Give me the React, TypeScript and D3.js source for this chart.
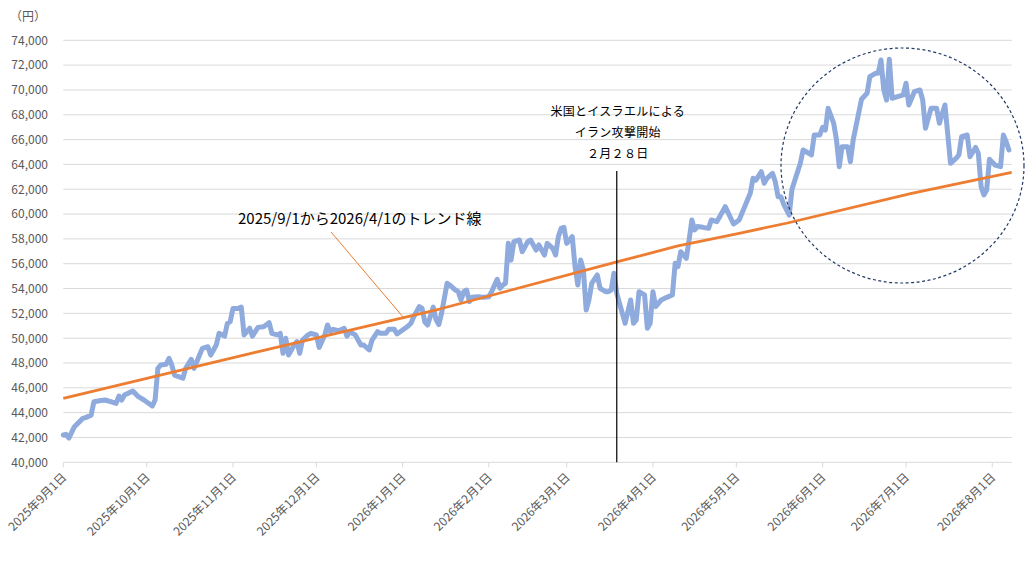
import React from 'react';
import * as d3 from 'd3';

// ---- data ----
const priceDates: string[] = [
  '2025-09-01','2025-09-02','2025-09-03','2025-09-05','2025-09-08','2025-09-09','2025-09-11','2025-09-12','2025-09-14','2025-09-16',
  '2025-09-18','2025-09-20','2025-09-21','2025-09-22','2025-09-23','2025-09-26','2025-09-28','2025-09-30','2025-10-03','2025-10-04',
  '2025-10-05','2025-10-06','2025-10-08','2025-10-09','2025-10-10','2025-10-11','2025-10-14','2025-10-15','2025-10-17','2025-10-18',
  '2025-10-20','2025-10-21','2025-10-23','2025-10-24','2025-10-26','2025-10-27','2025-10-29','2025-10-30','2025-10-31','2025-11-01',
  '2025-11-03','2025-11-04','2025-11-05','2025-11-07','2025-11-08','2025-11-10','2025-11-12','2025-11-14','2025-11-15','2025-11-17',
  '2025-11-18','2025-11-19','2025-11-20','2025-11-21','2025-11-23','2025-11-24','2025-11-25','2025-11-26','2025-11-28','2025-11-29',
  '2025-12-01','2025-12-02','2025-12-04','2025-12-05','2025-12-06','2025-12-07','2025-12-09','2025-12-11','2025-12-12','2025-12-13',
  '2025-12-14','2025-12-15','2025-12-17','2025-12-18','2025-12-20','2025-12-21','2025-12-23','2025-12-24','2025-12-26','2025-12-27',
  '2025-12-29','2025-12-30','2026-01-01','2026-01-03','2026-01-04','2026-01-05','2026-01-07','2026-01-08','2026-01-09','2026-01-10',
  '2026-01-12','2026-01-13','2026-01-14','2026-01-15','2026-01-17','2026-01-18','2026-01-20','2026-01-21','2026-01-22','2026-01-23',
  '2026-01-24','2026-01-25','2026-01-26','2026-01-28','2026-01-30','2026-02-01','2026-02-02','2026-02-04','2026-02-05','2026-02-06',
  '2026-02-07','2026-02-08','2026-02-09','2026-02-10','2026-02-12','2026-02-13','2026-02-15','2026-02-16','2026-02-18','2026-02-19',
  '2026-02-21','2026-02-22','2026-02-24','2026-02-25','2026-02-26','2026-02-27','2026-02-28','2026-03-01','2026-03-03','2026-03-04',
  '2026-03-05','2026-03-06','2026-03-07','2026-03-08','2026-03-09','2026-03-10','2026-03-12','2026-03-13','2026-03-15','2026-03-16',
  '2026-03-17','2026-03-18','2026-03-19','2026-03-20','2026-03-22','2026-03-24','2026-03-25','2026-03-26','2026-03-27','2026-03-29',
  '2026-03-30','2026-03-31','2026-04-01','2026-04-02','2026-04-04','2026-04-06','2026-04-08','2026-04-09','2026-04-10','2026-04-11',
  '2026-04-12','2026-04-13','2026-04-14','2026-04-15','2026-04-16','2026-04-17','2026-04-19','2026-04-21','2026-04-22','2026-04-24',
  '2026-04-25','2026-04-27','2026-04-29','2026-04-30','2026-05-02','2026-05-04','2026-05-06','2026-05-07','2026-05-08','2026-05-10',
  '2026-05-11','2026-05-12','2026-05-14','2026-05-15','2026-05-16','2026-05-17','2026-05-18','2026-05-20','2026-05-21','2026-05-23',
  '2026-05-24','2026-05-25','2026-05-27','2026-05-28','2026-05-29','2026-05-31','2026-06-01','2026-06-02','2026-06-03','2026-06-05',
  '2026-06-06','2026-06-07','2026-06-08','2026-06-10','2026-06-11','2026-06-12','2026-06-15','2026-06-17','2026-06-18','2026-06-20',
  '2026-06-21','2026-06-22','2026-06-23','2026-06-24','2026-06-25','2026-06-26','2026-06-28','2026-06-30','2026-07-01','2026-07-02',
  '2026-07-04','2026-07-06','2026-07-07','2026-07-08','2026-07-10','2026-07-12','2026-07-13','2026-07-15','2026-07-17','2026-07-19',
  '2026-07-20','2026-07-21','2026-07-23','2026-07-24','2026-07-26','2026-07-27','2026-07-28','2026-07-29','2026-07-30','2026-07-31',
  '2026-08-02','2026-08-04','2026-08-05','2026-08-06','2026-08-07',
];

const priceValues: number[] = [
  42200,42250,41950,42870,43540,43600,43800,44880,44960,45020,
  44880,44750,45340,45020,45420,45740,45290,45020,44540,45020,
  47570,47840,47900,48380,47840,47030,46770,47570,48300,47570,
  48640,49180,49310,48640,49450,50390,50170,51200,51330,52400,
  52400,52500,50260,50800,50170,50870,50920,51250,50390,50260,
  50390,48780,49990,48640,49450,49720,48780,49850,50260,50390,
  50260,49260,50260,51060,50520,50710,50600,50800,50170,50520,
  50390,50260,49450,49450,49050,49850,50520,50390,50390,50710,
  50710,50340,50660,50980,51200,51730,52540,52400,51300,51060,
  52500,51500,51100,52000,54420,54280,53880,53750,53080,53750,
  53880,52940,53290,53340,53290,53340,53750,54740,54020,54280,
  54420,57640,56300,57770,57910,56970,57770,57910,57100,57510,
  56700,57640,57240,56700,58180,58850,58930,57640,58180,55760,
  54280,56300,55500,52270,53080,54420,55090,54020,53750,53750,
  53880,55230,53610,52810,51200,53080,51200,51470,53750,53480,
  50800,51200,53750,52540,53080,53290,53480,56030,55760,56970,
  56700,56430,57910,59520,58720,58990,58930,58850,59520,59390,
  59790,60600,59660,59200,59520,60600,61670,62880,62740,63410,
  62480,62880,63280,62610,61400,61400,60800,59920,62000,63400,
  64090,65160,64900,64760,66370,66370,66990,66770,68520,67310,
  65970,63820,65430,65430,64220,65970,69250,69730,71070,71340,
  71340,72410,70000,69190,72470,69330,69460,69600,70540,68790,
  69860,70000,69190,66910,68520,68520,67310,68790,64090,64490,
  64760,66240,66370,64620,65370,64900,62210,61540,61940,64410,
  63950,63820,66370,65830,65160,
];

// trend line (read at several points)
const trendDates: string[] = [
  '2025-09-01','2025-11-09','2026-01-14','2026-03-19','2026-04-10','2026-05-02','2026-05-19','2026-07-03','2026-08-08',
];
const trendValues: number[] = [45150, 48860, 52330, 56140, 57430, 58450, 59260, 61670, 63365];

const yTicks: number[] = [40000, 42000, 44000, 46000, 48000, 50000, 52000, 54000, 56000, 58000, 60000, 62000, 64000, 66000, 68000, 70000, 72000, 74000];

const xTickDates: string[] = [
  '2025-09-01','2025-10-01','2025-11-01','2025-12-01','2026-01-01','2026-02-01',
  '2026-03-01','2026-04-01','2026-05-01','2026-06-01','2026-07-01','2026-08-01',
];
const xTickLabels: string[] = [
  '2025年9月1日','2025年10月1日','2025年11月1日','2025年12月1日','2026年1月1日','2026年2月1日',
  '2026年3月1日','2026年4月1日','2026年5月1日','2026年6月1日','2026年7月1日','2026年8月1日',
];

const eventDate = '2026-03-19';
const eventLabel: string[] = ['米国とイスラエルによる', 'イラン攻撃開始', '２月２８日'];
const trendLabel = '2025/9/1から2026/4/1のトレンド線';
const unitLabel = '（円）';

const FONT = "'Noto Sans CJK JP', 'Noto Sans', sans-serif";

export default function App() {
  const W = 1035;
  const H = 561;
  const parse = d3.utcParse('%Y-%m-%d');
  const x = d3.scaleUtc()
    .domain([parse('2025-09-01') as Date, parse('2026-08-08') as Date])
    .range([63.3, 1011.7]);
  const y = d3.scaleLinear().domain([40000, 74000]).range([462.3, 40.3]);

  const pricePts: [Date, number][] = priceDates.map((d, i) => [parse(d) as Date, priceValues[i]]);
  const trendPts: [Date, number][] = trendDates.map((d, i) => [parse(d) as Date, trendValues[i]]);
  const line = d3.line<[Date, number]>().x(d => x(d[0])).y(d => y(d[1]));
  const fmt = d3.format(',');

  const [x0, x1] = x.range();
  const ex = x(parse(eventDate) as Date);

  return (
    <svg width={W} height={H} style={{ position: 'absolute', left: 0, top: 0, background: '#fff' }} fontFamily={FONT}>
      <rect x={0} y={0} width={W} height={H} fill="#fff" />
      {/* grid */}
      {yTicks.map(t => (
        <line key={t} x1={x0} x2={x1} y1={y(t)} y2={y(t)} stroke="#d9d9d9" strokeWidth={1} />
      ))}
      {/* y labels */}
      {yTicks.map(t => (
        <text key={'l' + t} x={48} y={y(t)} dy="0.36em" textAnchor="end" fontSize={12} fill="#595959">{fmt(t)}</text>
      ))}
      <text x={28} y={21} textAnchor="middle" fontSize={12} fill="#595959">{unitLabel}</text>
      {/* x ticks */}
      {xTickDates.map((d, i) => {
        const tx = x(parse(d) as Date);
        return (
          <g key={d}>
            <line x1={tx} x2={tx} y1={y(40000)} y2={y(40000) + 5} stroke="#d9d9d9" />
            <text transform={`translate(${tx + 4},${478}) rotate(-45)`} textAnchor="end" fontSize={12} fill="#595959">{xTickLabels[i]}</text>
          </g>
        );
      })}
      {/* price line */}
      <path d={line(pricePts) || ''} fill="none" stroke="#8FAADC" strokeWidth={5} strokeLinejoin="round" strokeLinecap="round" />
      {/* trend line */}
      <path d={line(trendPts) || ''} fill="none" stroke="#ED7D31" strokeWidth={2.8} strokeLinejoin="round" />
      {/* event line */}
      <line x1={ex} x2={ex} y1={171} y2={y(40000)} stroke="#000" strokeWidth={1.2} />
      {eventLabel.map((s, i) => (
        <text key={s} x={ex + 1} y={116 + i * 21} textAnchor="middle" fontSize={12} fill="#000" letterSpacing={0.3}>{s}</text>
      ))}
      {/* trend label + leader */}
      <line x1={331} y1={232} x2={403} y2={317} stroke="#ED7D31" strokeWidth={1} />
      <text x={238} y={223.5} fontSize={15} fill="#000">{trendLabel}</text>
      {/* dashed circle */}
      <ellipse cx={902.5} cy={165.5} rx={121.5} ry={117.5} fill="none" stroke="#203864" strokeWidth={1.2} strokeDasharray="3 2.5" />
    </svg>
  );
}
